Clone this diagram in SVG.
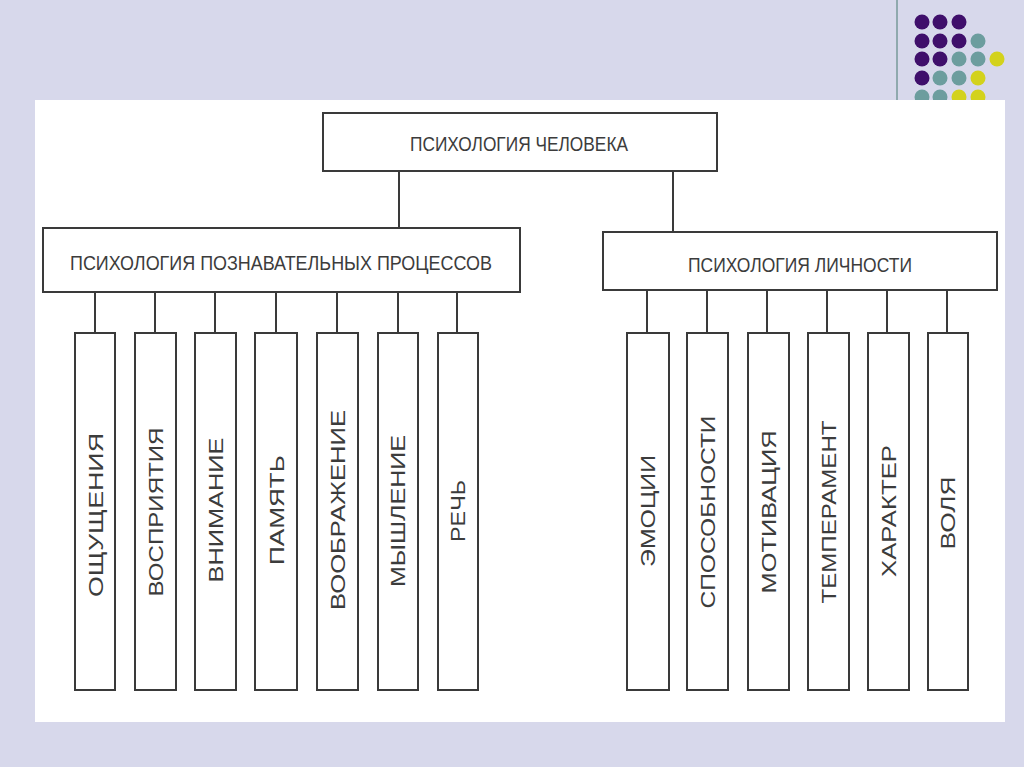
<svg xmlns="http://www.w3.org/2000/svg" width="1024" height="767" viewBox="0 0 1024 767">
<style>
.box{fill:#fff;stroke:#3a3a3a;stroke-width:2}
.con{stroke:#3a3a3a;stroke-width:2;fill:none}
.h{font-family:"Liberation Sans","DejaVu Sans",sans-serif;font-size:21px;fill:#3c3c3c;text-anchor:middle}
.v{font-family:"Liberation Sans","DejaVu Sans",sans-serif;font-size:21px;fill:#3c3c3c;text-anchor:middle}
.p{fill:#3f0f6b}.t{fill:#6c9d9e}.y{fill:#d3d21c}
</style>
<rect x="0" y="0" width="1024" height="767" fill="#d7d8eb"/>
<line x1="897" y1="0" x2="897" y2="100" stroke="#8fa9ae" stroke-width="2"/>
<g id="dots">
<circle class="p" cx="922" cy="22" r="7.5"/><circle class="p" cx="940" cy="22" r="7.5"/><circle class="p" cx="959" cy="22" r="7.5"/>
<circle class="p" cx="922" cy="41" r="7.5"/><circle class="p" cx="940" cy="41" r="7.5"/><circle class="p" cx="959" cy="41" r="7.5"/><circle class="t" cx="978" cy="41" r="7.5"/>
<circle class="p" cx="922" cy="59" r="7.5"/><circle class="p" cx="940" cy="59" r="7.5"/><circle class="t" cx="959" cy="59" r="7.5"/><circle class="t" cx="978" cy="59" r="7.5"/><circle class="y" cx="997" cy="59" r="7.5"/>
<circle class="p" cx="922" cy="78" r="7.5"/><circle class="t" cx="940" cy="78" r="7.5"/><circle class="t" cx="959" cy="78" r="7.5"/><circle class="y" cx="978" cy="78" r="7.5"/>
<circle class="t" cx="922" cy="97" r="7.5"/><circle class="t" cx="940" cy="97" r="7.5"/><circle class="y" cx="959" cy="97" r="7.5"/><circle class="y" cx="978" cy="97" r="7.5"/>
</g>
<rect x="35" y="100" width="970" height="622" fill="#fff"/>
<g id="connectors">
<line class="con" x1="399" y1="171" x2="399" y2="228"/>
<line class="con" x1="673" y1="171" x2="673" y2="232"/>
<line class="con" x1="95" y1="292" x2="95" y2="333"/>
<line class="con" x1="155" y1="292" x2="155" y2="333"/>
<line class="con" x1="215" y1="292" x2="215" y2="333"/>
<line class="con" x1="276" y1="292" x2="276" y2="333"/>
<line class="con" x1="337" y1="292" x2="337" y2="333"/>
<line class="con" x1="398" y1="292" x2="398" y2="333"/>
<line class="con" x1="457" y1="292" x2="457" y2="333"/>
<line class="con" x1="647" y1="290" x2="647" y2="333"/>
<line class="con" x1="707" y1="290" x2="707" y2="333"/>
<line class="con" x1="767" y1="290" x2="767" y2="333"/>
<line class="con" x1="827" y1="290" x2="827" y2="333"/>
<line class="con" x1="887" y1="290" x2="887" y2="333"/>
<line class="con" x1="947" y1="290" x2="947" y2="333"/>
</g>
<g id="root"><rect class="box" x="323" y="113" width="394" height="58"/><text class="h" x="519" y="151" textLength="218" lengthAdjust="spacingAndGlyphs">ПСИХОЛОГИЯ ЧЕЛОВЕКА</text></g>
<g id="cognitive"><rect class="box" x="43" y="228" width="477" height="64"/><text class="h" x="281" y="270" textLength="422" lengthAdjust="spacingAndGlyphs">ПСИХОЛОГИЯ ПОЗНАВАТЕЛЬНЫХ ПРОЦЕССОВ</text></g>
<g id="personality"><rect class="box" x="603" y="232" width="394" height="58"/><text class="h" x="800" y="272" textLength="224" lengthAdjust="spacingAndGlyphs">ПСИХОЛОГИЯ ЛИЧНОСТИ</text></g>
<g id="n1"><rect class="box" x="75" y="333" width="40" height="357"/><text class="v" transform="translate(103,515) rotate(-90)" textLength="164" lengthAdjust="spacingAndGlyphs">ОЩУЩЕНИЯ</text></g>
<g id="n2"><rect class="box" x="135" y="333" width="41" height="357"/><text class="v" transform="translate(163,512) rotate(-90)" textLength="169" lengthAdjust="spacingAndGlyphs">ВОСПРИЯТИЯ</text></g>
<g id="n3"><rect class="box" x="195" y="333" width="41" height="357"/><text class="v" transform="translate(223,510) rotate(-90)" textLength="145" lengthAdjust="spacingAndGlyphs">ВНИМАНИЕ</text></g>
<g id="n4"><rect class="box" x="255" y="333" width="42" height="357"/><text class="v" transform="translate(284,510) rotate(-90)" textLength="110" lengthAdjust="spacingAndGlyphs">ПАМЯТЬ</text></g>
<g id="n5"><rect class="box" x="317" y="333" width="41" height="357"/><text class="v" transform="translate(345,510) rotate(-90)" textLength="200" lengthAdjust="spacingAndGlyphs">ВООБРАЖЕНИЕ</text></g>
<g id="n6"><rect class="box" x="378" y="333" width="40" height="357"/><text class="v" transform="translate(405,511) rotate(-90)" textLength="152" lengthAdjust="spacingAndGlyphs">МЫШЛЕНИЕ</text></g>
<g id="n7"><rect class="box" x="438" y="333" width="40" height="357"/><text class="v" transform="translate(465,511) rotate(-90)" textLength="62" lengthAdjust="spacingAndGlyphs">РЕЧЬ</text></g>
<g id="n8"><rect class="box" x="627" y="333" width="42" height="357"/><text class="v" transform="translate(655,511) rotate(-90)" textLength="112" lengthAdjust="spacingAndGlyphs">ЭМОЦИИ</text></g>
<g id="n9"><rect class="box" x="687" y="333" width="41" height="357"/><text class="v" transform="translate(715,512) rotate(-90)" textLength="193" lengthAdjust="spacingAndGlyphs">СПОСОБНОСТИ</text></g>
<g id="n10"><rect class="box" x="748" y="333" width="41" height="357"/><text class="v" transform="translate(776,512) rotate(-90)" textLength="163" lengthAdjust="spacingAndGlyphs">МОТИВАЦИЯ</text></g>
<g id="n11"><rect class="box" x="808" y="333" width="41" height="357"/><text class="v" transform="translate(836,512) rotate(-90)" textLength="183" lengthAdjust="spacingAndGlyphs">ТЕМПЕРАМЕНТ</text></g>
<g id="n12"><rect class="box" x="868" y="333" width="41" height="357"/><text class="v" transform="translate(896,511) rotate(-90)" textLength="132" lengthAdjust="spacingAndGlyphs">ХАРАКТЕР</text></g>
<g id="n13"><rect class="box" x="928" y="333" width="40" height="357"/><text class="v" transform="translate(955,513) rotate(-90)" textLength="73" lengthAdjust="spacingAndGlyphs">ВОЛЯ</text></g>
</svg>
